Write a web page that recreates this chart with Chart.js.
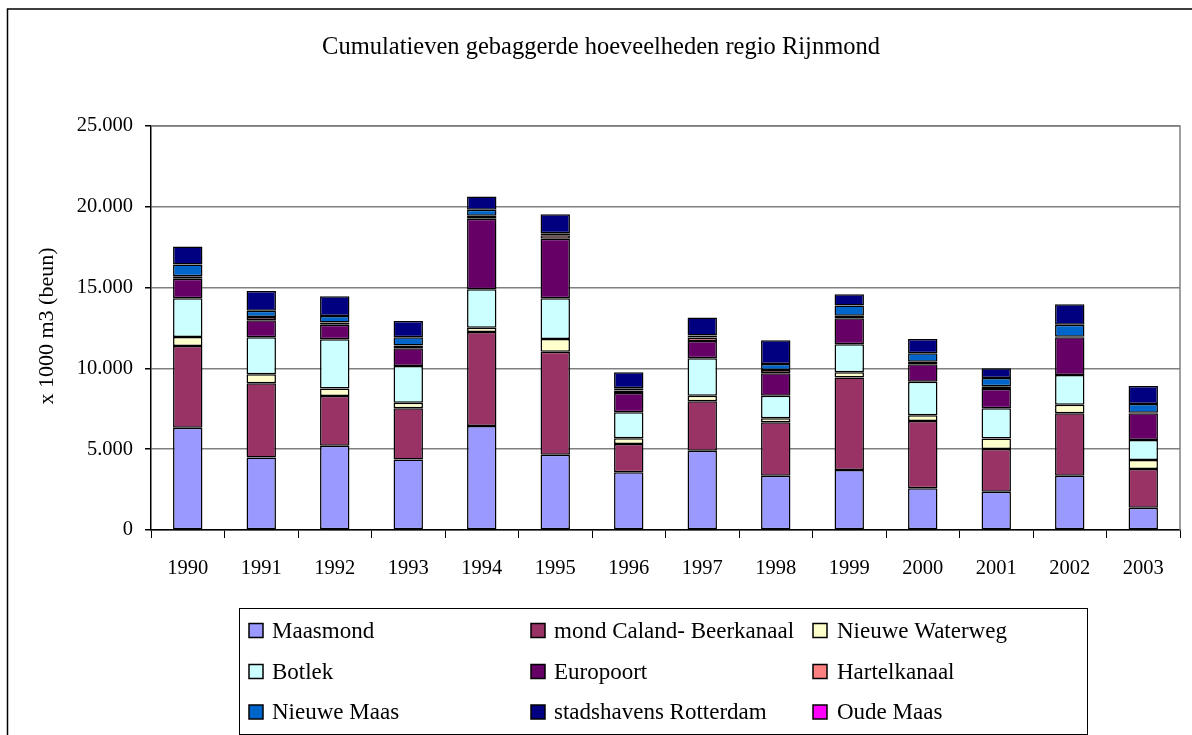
<!DOCTYPE html>
<html>
<head>
<meta charset="utf-8">
<script src="https://cdn.jsdelivr.net/npm/chart.js@4/dist/chart.umd.min.js"></script>
<style>
  html, body { margin: 0; padding: 0; background: #fff; }
  #wrap { width: 1192px; height: 735px; position: relative; }
</style>
</head>
<body>
<div id="wrap"><canvas id="c" width="1192" height="735"></canvas></div>
<script>
const years = ['1990','1991','1992','1993','1994','1995','1996','1997','1998','1999','2000','2001','2002','2003'];
const maasmond       = [6330, 4480, 5220, 4370, 6440, 4660, 3570, 4910, 3360, 3710, 2580, 2370, 3360, 1380];
const calandBeer     = [5060, 4600, 3075, 3160, 5820, 6375, 1750, 3055, 3305, 5720, 4165, 2645, 3860, 2395];
const nieuweWaterweg = [560, 560, 455, 350, 250, 785, 355, 345, 245, 330, 350, 640, 535, 555];
const botlek         = [2395, 2290, 3055, 2270, 2390, 2520, 1610, 2315, 1400, 1730, 2080, 1880, 1835, 1240];
const europoort      = [1195, 1050, 890, 1095, 4355, 3690, 1195, 1075, 1385, 1610, 1075, 1195, 2330, 1650];
const hartelkanaal   = [165, 200, 145, 165, 185, 205, 150, 205, 205, 165, 165, 165, 40, 40];
const nieuweMaas     = [720, 390, 410, 515, 370, 125, 140, 125, 370, 620, 520, 515, 745, 535];
const stadshavens    = [1115, 1220, 1220, 1010, 825, 1175, 990, 1115, 1465, 705, 885, 600, 1260, 1115];
const oudeMaas       = [0, 0, 0, 0, 0, 0, 0, 0, 0, 0, 0, 0, 0, 0];
const yTicks = [0, 5000, 10000, 15000, 20000, 25000];

const seriesNames = ['Maasmond','mond Caland- Beerkanaal','Nieuwe Waterweg','Botlek','Europoort','Hartelkanaal','Nieuwe Maas','stadshavens Rotterdam','Oude Maas'];
const seriesData = [maasmond, calandBeer, nieuweWaterweg, botlek, europoort, hartelkanaal, nieuweMaas, stadshavens, oudeMaas];
const seriesColors = ['#9999FF','#993366','#FFFFCC','#CCFFFF','#660066','#FF8080','#0066CC','#000080','#FF00FF'];

const FONT = '"Liberation Serif", "DejaVu Serif", serif';

function fmt(v) {
  return String(v).replace(/\B(?=(\d{3})+(?!\d))/g, '.');
}

const decor = {
  id: 'decor',
  beforeDraw(chart) {
    const ctx = chart.ctx;
    ctx.save();
    ctx.fillStyle = '#fff';
    ctx.fillRect(0, 0, chart.width, chart.height);
    ctx.restore();
  },
  afterDraw(chart) {
    const ctx = chart.ctx;
    const ca = chart.chartArea;
    ctx.save();
    // outer frame
    ctx.strokeStyle = '#000';
    ctx.lineWidth = 1.5;
    ctx.beginPath();
    ctx.moveTo(7.5, 740);
    ctx.lineTo(7.5, 9);
    ctx.lineTo(1200, 9);
    ctx.stroke();
    // plot area top/right border
    ctx.strokeStyle = '#808080';
    ctx.lineWidth = 1.5;
    ctx.beginPath();
    ctx.moveTo(ca.left, ca.top);
    ctx.lineTo(ca.right, ca.top);
    ctx.lineTo(ca.right, ca.bottom);
    ctx.stroke();
    // title
    ctx.fillStyle = '#000';
    ctx.font = '24.5px ' + FONT;
    ctx.textAlign = 'center';
    ctx.textBaseline = 'middle';
    ctx.fillText('Cumulatieven gebaggerde hoeveelheden regio Rijnmond', 601, 48);
    // y axis title
    ctx.save();
    ctx.translate(47, 326);
    ctx.rotate(-Math.PI / 2);
    ctx.font = '22px ' + FONT;
    ctx.fillText('x 1000 m3 (beun)', 0, 0);
    ctx.restore();
    // legend box
    ctx.strokeStyle = '#000';
    ctx.lineWidth = 1;
    ctx.strokeRect(239.5, 608.5, 848, 126);
    const swX = [249, 531, 813];
    const txX = [272, 554, 837];
    const rowY = [630.5, 671.5, 712];
    ctx.font = '23px ' + FONT;
    ctx.textAlign = 'left';
    ctx.textBaseline = 'middle';
    chart.data.datasets.forEach((ds, i) => {
      const col = i % 3, row = Math.floor(i / 3);
      const x = swX[col], y = rowY[row];
      ctx.fillStyle = ds.backgroundColor;
      ctx.fillRect(x, y - 7, 14, 14);
      ctx.strokeStyle = '#000';
      ctx.lineWidth = 1.5;
      ctx.strokeRect(x, y - 7, 14, 14);
      ctx.fillStyle = '#000';
      ctx.fillText(ds.label, txX[col], y + 1);
    });
    ctx.restore();
  }
};

new Chart(document.getElementById('c'), {
  type: 'bar',
  data: {
    labels: years,
    datasets: seriesNames.map((n, i) => ({
      label: n,
      data: seriesData[i],
      backgroundColor: seriesColors[i],
      borderColor: '#000',
      borderWidth: 1.5,
      borderSkipped: false,
      barPercentage: 0.4,
      categoryPercentage: 1.0
    }))
  },
  options: {
    responsive: false,
    animation: false,
    devicePixelRatio: 1,
    layout: { padding: { top: 126, right: 12, bottom: 145, left: 0 } },
    plugins: {
      legend: { display: false },
      title: { display: false },
      tooltip: { enabled: false }
    },
    scales: {
      x: {
        stacked: true,
        grid: { offset: true, drawOnChartArea: false, tickLength: 8, color: '#000', lineWidth: 1 },
        border: { color: '#000', width: 1.5 },
        ticks: { color: '#000', font: { family: FONT, size: 20.5 }, padding: 18, maxRotation: 0 },
        afterFit(scale) { scale.height = 60; }
      },
      y: {
        stacked: true,
        min: 0,
        max: 25000,
        afterBuildTicks(scale) { scale.ticks = yTicks.map(v => ({ value: v })); },
        grid: { color: '#808080', lineWidth: 1.5, tickLength: 6, tickColor: '#000' },
        border: { color: '#000', width: 1.5 },
        ticks: { color: '#000', font: { family: FONT, size: 20.5 }, padding: 12, callback: v => fmt(v) },
        afterFit(scale) { scale.width = 151; }
      }
    }
  },
  plugins: [decor]
});
</script>
</body>
</html>
